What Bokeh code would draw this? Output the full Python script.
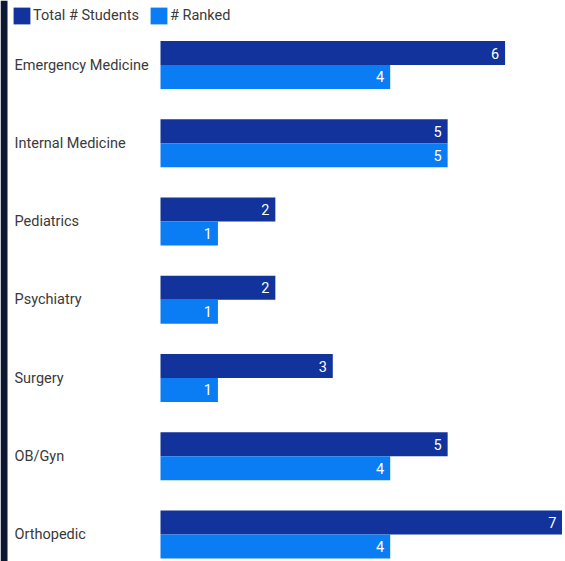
import numpy as np
from bokeh.plotting import figure
from bokeh.models import ColumnDataSource, Range1d, Legend, LegendItem, BoxAnnotation
from bokeh.core.properties import value
from bokeh.embed import file_html
from bokeh.resources import INLINE

categories = ["Emergency Medicine", "Internal Medicine", "Pediatrics", "Psychiatry",
              "Surgery", "OB/Gyn", "Orthopedic"]
total_students = [6, 5, 2, 2, 3, 5, 7]
ranked = [4, 5, 1, 1, 1, 4, 4]

DARK = "#11339b"
LIGHT = "#0a7cf4"
FONT = "Roboto"

idx = np.arange(len(categories))
bar_h = 0.307
off = 0.153

src = ColumnDataSource(dict(
    cat=categories,
    y=idx,
    y_total=idx - off,
    y_ranked=idx + off,
    total=total_students,
    ranked=ranked,
    total_lbl=[str(v) for v in total_students],
    ranked_lbl=[str(v) for v in ranked],
))

W, H = 562, 561
px_per_unit = 402 / 7
x_start = -160 / px_per_unit
pitch = 78.25
y_top = -64.5 / pitch
y_bot = y_top + H / pitch

p = figure(width=W, height=H, output_backend="svg", toolbar_location=None,
           x_range=Range1d(x_start, 7), y_range=Range1d(y_bot, y_top),
           x_axis_type=None, y_axis_type=None,
           min_border_left=0, min_border_right=0, min_border_top=0, min_border_bottom=0)
p.outline_line_color = None
p.xgrid.visible = False
p.ygrid.visible = False
p.background_fill_color = "white"
p.border_fill_color = "white"

p.add_layout(BoxAnnotation(left=0, right=7, left_units="screen", right_units="screen",
                           fill_color="#0c1731", fill_alpha=1, line_color=None))

r1 = p.hbar(y="y_total", left=0, right="total", height=bar_h, source=src,
            fill_color=DARK, line_color=None)
r2 = p.hbar(y="y_ranked", left=0, right="ranked", height=bar_h, source=src,
            fill_color=LIGHT, line_color=None)

p.text(x="total", y="y_total", text="total_lbl", source=src, x_offset=-6,
       text_align="right", text_baseline="middle", text_color="white",
       text_font=value(FONT), text_font_size="14.5px")
p.text(x="ranked", y="y_ranked", text="ranked_lbl", source=src, x_offset=-6,
       text_align="right", text_baseline="middle", text_color="white",
       text_font=value(FONT), text_font_size="14.5px")

p.text(x=x_start, y="y", text="cat", source=src, x_offset=14,
       text_align="left", text_baseline="middle", text_color="#3a3a3a",
       text_font=value(FONT), text_font_size="14.5px")

legend = Legend(items=[LegendItem(label="Total # Students", renderers=[r1]),
                       LegendItem(label="# Ranked", renderers=[r2])],
                location=(11, 535), orientation="horizontal",
                margin=0, padding=0, spacing=9, label_standoff=1,
                glyph_width=21, glyph_height=21, label_height=21,
                label_text_font=FONT, label_text_font_size="14.5px",
                label_text_color="#3a3a3a",
                border_line_color=None, background_fill_alpha=0)
p.add_layout(legend, "center")

open("out.html", "w").write(file_html(p, INLINE))
